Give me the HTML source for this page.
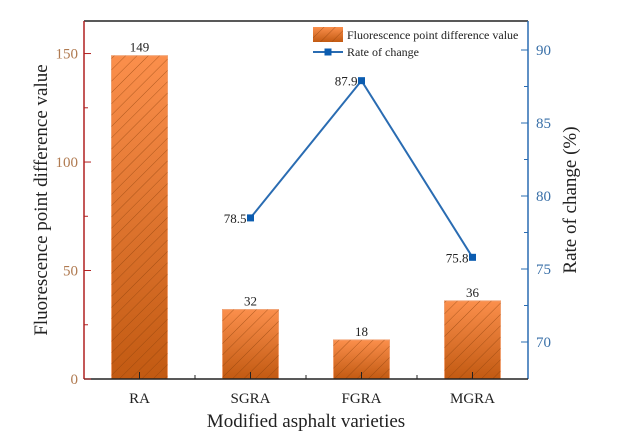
<!DOCTYPE html>
<html><head><meta charset="utf-8"><style>
html,body{margin:0;padding:0;background:#fff;}
svg{display:block;font-family:"Liberation Serif",serif;}
</style></head><body>
<svg id="chart" width="619" height="448" xmlns="http://www.w3.org/2000/svg">
<defs>
<linearGradient id="barGrad" x1="0" y1="0" x2="0" y2="1">
<stop offset="0" stop-color="#fb8f4c"/><stop offset="1" stop-color="#c25a12"/>
</linearGradient>
<pattern id="hatch" width="8" height="8" patternUnits="userSpaceOnUse" patternTransform="rotate(45)">
<line x1="0" y1="0" x2="0" y2="8" stroke="#8a3e08" stroke-width="0.8" opacity="0.8"/>
</pattern>
</defs>
<g id="bars"></g><g id="line"></g><g id="axes"></g>
</svg>
<script>
const categories=["RA","SGRA","FGRA","MGRA"];
const barValues=[149,32,18,36];
const rateCats=["SGRA","FGRA","MGRA"];
const rateValues=[78.5,87.9,75.8];
const leftTicks=[0,50,100,150];
const rightTicks=[70,75,80,85,90];

const NS="http://www.w3.org/2000/svg";
const L=84,R=528,T=21,B=379;
const xs=i=>L+(i+0.5)*(R-L)/categories.length;
const yL=v=>B-v*(B-T)/165;
const yR=v=>342-(v-70)*14.6;
function mk(p,tag,a,txt){const e=document.createElementNS(NS,tag);for(const k in a)e.setAttribute(k,a[k]);if(txt!==undefined)e.textContent=txt;p.appendChild(e);return e;}
const bars=document.getElementById('bars'),line=document.getElementById('line'),axes=document.getElementById('axes');
const bw=56;
barValues.forEach((v,i)=>{
 const g=mk(bars,'g',{});
 
 
 mk(g,'rect',{x:xs(i)-bw/2,y:yL(v),width:bw,height:B-yL(v),fill:'url(#barGrad)',stroke:'#f0a070','stroke-width':1});
 mk(g,'rect',{x:xs(i)-bw/2,y:yL(v),width:bw,height:B-yL(v),fill:'url(#hatch)'});
 const t=mk(bars,'text',{x:xs(i),y:yL(v)-4,'text-anchor':'middle','font-size':13,fill:'#222'},String(v));
 
 
});
const pts=rateValues.map((v,i)=>[xs(categories.indexOf(rateCats[i])),yR(v)]);
const pl=mk(line,'polyline',{points:pts.map(p=>p.join(',')).join(' '),fill:'none',stroke:'#2a6cb2','stroke-width':2});


pts.forEach((p,i)=>{
 const m=mk(line,'rect',{x:p[0]-3.5,y:p[1]-3.5,width:7,height:7,fill:'#0b5cb0'});
 
 
 const t=mk(line,'text',{x:p[0]-4,y:p[1]+5,'text-anchor':'end','font-size':13,fill:'#222'},rateValues[i].toFixed(1));
 
 
});
mk(axes,'line',{x1:L,y1:T,x2:R,y2:T,stroke:'#222','stroke-width':1.5});
const la=mk(axes,'line',{x1:L,y1:T,x2:L,y2:B,stroke:'#b02020','stroke-width':1.5});

const ra=mk(axes,'line',{x1:R,y1:T,x2:R,y2:B,stroke:'#2a6cb2','stroke-width':1.5});

const xa=mk(axes,'line',{x1:L,y1:B,x2:R,y2:B,stroke:'#222','stroke-width':1.5});

leftTicks.forEach(v=>{
 mk(axes,'line',{x1:L,y1:yL(v),x2:L+7,y2:yL(v),stroke:'#b02020','stroke-width':1});
 const t=mk(axes,'text',{x:L-6,y:yL(v)+5,'text-anchor':'end','font-size':15,fill:'#b07a50'},String(v));
 
});
[25,75,125].forEach(v=>mk(axes,'line',{x1:L,y1:yL(v),x2:L+4,y2:yL(v),stroke:'#b02020','stroke-width':1}));
rightTicks.forEach(v=>{
 mk(axes,'line',{x1:R,y1:yR(v),x2:R-7,y2:yR(v),stroke:'#2a6cb2','stroke-width':1});
 const t=mk(axes,'text',{x:R+8,y:yR(v)+5,'font-size':15,fill:'#3a70a8'},String(v));
 
});
[72.5,77.5,82.5,87.5].forEach(v=>mk(axes,'line',{x1:R,y1:yR(v),x2:R-4,y2:yR(v),stroke:'#2a6cb2','stroke-width':1}));
categories.forEach((c,i)=>{
 mk(axes,'line',{x1:xs(i),y1:B,x2:xs(i),y2:B-7,stroke:'#222','stroke-width':1});
 if(i>0)mk(axes,'line',{x1:xs(i)-55.5,y1:B,x2:xs(i)-55.5,y2:B-4,stroke:'#222','stroke-width':1});
 const t=mk(axes,'text',{x:xs(i),y:B+24,'text-anchor':'middle','font-size':15,fill:'#222'},c);
 
});
</script>
<svg style="position:absolute;left:0;top:0" width="619" height="448" xmlns="http://www.w3.org/2000/svg" font-family="Liberation Serif, serif">
<text x="306" y="427" text-anchor="middle" font-size="19" fill="#222">Modified asphalt varieties</text>
<text transform="translate(47,200) rotate(-90)" text-anchor="middle" font-size="19" fill="#222">Fluorescence point difference value</text>
<text transform="translate(576,200) rotate(-90)" text-anchor="middle" font-size="19" fill="#222">Rate of change (%)</text>
<g>
<rect x="313" y="27" width="30" height="15" fill="url(#barGrad)"/>
<rect x="313" y="27" width="30" height="15" fill="url(#hatch)"/>
<text x="347" y="39" font-size="12" fill="#222">Fluorescence point difference value</text>
<line x1="313" y1="52" x2="343" y2="52" stroke="#2a6cb2" stroke-width="2"/>
<rect x="324.5" y="48.5" width="7" height="7" fill="#0b5cb0"/>
<text x="347" y="56" font-size="12" fill="#222">Rate of change</text>
</g>
</svg>
</body></html>
